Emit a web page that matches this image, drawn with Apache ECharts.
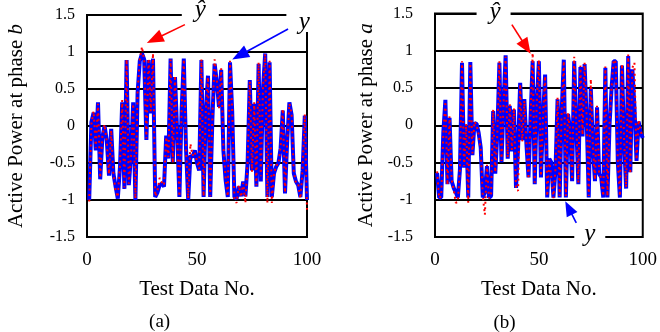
<!DOCTYPE html>
<html><head><meta charset="utf-8">
<script src="https://cdn.jsdelivr.net/npm/echarts@6/dist/echarts.min.js"></script>
<style>html,body{margin:0;padding:0;background:#fff}#c{width:660px;height:332px}</style>
</head><body><div id="c"></div>
<script>
// Test Data No. (1..100)
const testNo = Array.from({length: 100}, (_, k) => k + 1);
const xTicks = [0, 50, 100];
const yTicks = [-1.5, -1, -0.5, 0, 0.5, 1, 1.5];
const panelLabels = ['(a)', '(b)'];
const yNames = ['Active Power at phase {i|b}', 'Active Power at phase {i|a}'];

// (a) phase b : measured y
const phaseB_y = [
 -1.0, 0.05, 0.18, -0.33, 0.32, -0.72, -0.15, 0.0, -0.2, -0.67,
 -0.04, -0.64, -0.82, -0.98, -0.55, 0.32, -0.85, 0.89, -0.8, -0.4,
 0.32, -1.0, 0.45, 0.88, 0.98, 0.9, -0.19, 0.89, 0.17, 0.91,
 -0.96, -0.9, -0.8, -0.78, -0.82, -0.13, -0.44, 0.91, -0.49, 0.66,
 -0.1, -0.96, 0.2, 0.91, -0.3, -1.0, -0.4, -0.42, -0.33, -0.5,
 -0.6, 0.89, -0.96, 0.2, 0.68, -0.96, 0.1, 0.84, 0.6, 0.26,
 0.76, -0.33, -0.73, -0.96, 0.86, 0.2, -0.96, -0.98, -0.82, -0.95,
 -0.75, -0.95, -0.5, 0.62, -0.6, 0.3, -0.82, 0.84, -0.75, 0.5,
 0.98, -0.96, 0.86, -0.96, -0.64, -0.55, -0.5, -0.3, 0.21, -0.91,
 -0.2, 0.32, 0.15, -0.64, -0.75, -0.8, -0.96, -0.6, 0.14, -1.0
];
// (a) phase b : predicted y-hat
const phaseB_yhat = [
 -1.02, 0.03, 0.2, -0.3, 0.3, -0.7, -0.13, 0.02, -0.22, -0.65,
 -0.06, -0.66, -0.88, -0.96, -0.53, 0.35, -0.83, 0.9, -0.78, -0.42,
 0.3, -0.98, 0.47, 0.9, 1.07, 0.88, -0.17, 0.91, 0.2, 0.98,
 -0.95, -0.88, -0.7, -0.76, -0.8, -0.15, -0.42, 0.9, -0.5, 0.68,
 -0.12, -0.95, 0.22, 0.9, -0.28, -0.98, -0.24, -0.4, -0.35, -0.48,
 -0.58, 0.9, -0.95, 0.22, 0.66, -0.95, 0.12, 0.9, 0.62, 0.24,
 0.78, -0.28, -0.7, -0.95, 0.88, 0.22, -0.98, -1.04, -0.8, -0.96,
 -0.77, -1.04, -0.48, 0.6, -0.62, 0.32, -0.8, 0.86, -0.68, 0.52,
 0.97, -1.04, 0.88, -1.04, -0.65, -0.53, -0.52, -0.28, 0.23, -0.9,
 -0.22, 0.3, 0.17, -0.62, -0.77, -0.78, -0.98, -0.58, 0.16, -1.13
];
// (b) phase a : measured y
const phaseA_y = [
 -0.64, -0.97, -0.97, -0.1, 0.34, -0.79, 0.1, -0.75, -0.84, -0.9,
 -0.97, -0.6, 0.84, -0.57, 0.0, -0.97, 0.85, -0.4, 0.03, 0.02,
 -0.1, -0.3, -0.97, -0.9, -0.55, -0.97, -0.95, 0.19, -0.65, -0.1,
 0.84, -0.5, 0.3, 0.94, -0.45, 0.26, -0.35, 0.21, -0.84, -0.3,
 0.57, -0.2, 0.35, -0.25, -0.7, 0.1, 0.86, -0.79, 0.3, 0.86,
 -0.7, 0.1, 0.68, -0.97, -0.45, -0.5, -0.97, -0.6, 0.35, -0.97,
 0.2, 0.88, -0.97, 0.15, -0.05, -0.75, 0.86, 0.0, -0.79, 0.78,
 -0.15, 0.82, 0.1, -0.97, 0.5, -0.3, -0.75, 0.24, -0.65, -0.7,
 -0.97, 0.77, -0.97, 0.0, 0.5, 0.86, 0.86, -0.5, -0.97, 0.8,
 -0.2, -0.85, 0.93, -0.63, 0.75, 0.25, -0.48, 0.05, -0.1, -0.17
];
// (b) phase a : predicted y-hat
const phaseA_yhat = [
 -0.62, -0.98, -0.95, -0.12, 0.32, -0.8, 0.12, -0.73, -0.86, -1.04,
 -1.03, -0.58, 0.86, -0.55, 0.02, -1.04, 0.83, -0.38, 0.05, 0.0,
 -0.12, -0.32, -0.95, -1.2, -0.53, -0.98, -0.93, 0.21, -0.63, -0.12,
 0.86, -0.48, 0.28, 0.92, -0.43, 0.28, -0.33, 0.23, -0.86, -0.88,
 0.55, -0.22, 0.33, -0.23, -0.72, 0.12, 0.97, -0.77, 0.32, 0.88,
 -0.68, 0.12, 0.66, -0.95, -0.47, -0.7, -0.98, -0.58, 0.37, -0.95,
 0.22, 0.86, -0.95, 0.17, -0.07, -0.73, 0.92, 0.02, -0.77, 0.8,
 -0.13, 0.84, 0.12, -0.95, 0.62, -0.28, -0.73, 0.26, -0.63, -0.72,
 -0.95, 0.79, -0.95, 0.02, 0.52, 0.88, 0.84, -0.48, -0.95, 0.82,
 -0.18, -0.83, 0.95, -0.65, 0.77, 0.84, -0.46, 0.07, -0.08, -0.15
];

const serif = '"Liberation Serif", "Times New Roman", serif';
const pair = (ys) => testNo.map((x, k) => [x, ys[k]]);

const chart = echarts.init(document.getElementById('c'), null, {renderer: 'canvas'});

const grids = [
  {left: 87, top: 15, width: 220, height: 222},
  {left: 435, top: 13.5, width: 210, height: 223.5}
];
const yLabelMargins = [12, 22];
const yNameGaps = [60, 58];

const option = {
  animation: false,
  backgroundColor: '#fff',
  grid: grids.map(g => Object.assign({show: true, borderColor: '#000', borderWidth: 2, backgroundColor: '#fff'}, g)),
  xAxis: [0, 1].map(g => ({
    type: 'value', gridIndex: g, min: xTicks[0], max: xTicks[xTicks.length - 1], interval: xTicks[1] - xTicks[0],
    axisLine: {show: false}, axisTick: {show: false}, splitLine: {show: false},
    axisLabel: {fontFamily: serif, fontSize: 19, color: '#000', margin: 14},
    name: 'Test Data No.', nameLocation: 'middle', nameGap: 42,
    nameTextStyle: {fontFamily: serif, fontSize: 21, color: '#000'}
  })),
  yAxis: [0, 1].map(g => ({
    type: 'value', gridIndex: g, min: yTicks[0], max: yTicks[yTicks.length - 1], interval: yTicks[1] - yTicks[0],
    axisLine: {show: false}, axisTick: {show: false},
    splitLine: {show: true, lineStyle: {color: '#000', width: 1.8}},
    axisLabel: {fontFamily: serif, fontSize: 16, color: '#000', margin: yLabelMargins[g]},
    name: yNames[g], nameLocation: 'middle', nameGap: yNameGaps[g],
    nameTextStyle: {fontFamily: serif, fontSize: 21, color: '#000',
      rich: {i: {fontFamily: serif, fontStyle: 'italic', fontSize: 21, color: '#000'}}}
  })),
  series: [
    {type: 'line', xAxisIndex: 0, yAxisIndex: 0, data: pair(phaseB_y), symbol: 'none',
     lineStyle: {color: '#0000ff', width: 4}, z: 3},
    {type: 'line', xAxisIndex: 0, yAxisIndex: 0, data: pair(phaseB_yhat), symbol: 'none',
     lineStyle: {color: '#ff0000', width: 2, type: [2, 3.5]}, z: 4},
    {type: 'line', xAxisIndex: 1, yAxisIndex: 1, data: pair(phaseA_y), symbol: 'none',
     lineStyle: {color: '#0000ff', width: 4}, z: 3},
    {type: 'line', xAxisIndex: 1, yAxisIndex: 1, data: pair(phaseA_yhat), symbol: 'none',
     lineStyle: {color: '#ff0000', width: 2, type: [2, 3.5]}, z: 4}
  ]
};
chart.setOption(option);

// Annotations in data coordinates of each panel
const labelBoxes = [
  {g: 0, text: 'ŷ', at: [51.5, 1.56], box: [51.5, 1.5], size: [37, 24]},
  {g: 0, text: 'y', at: [98.8, 1.40], box: [98.8, 1.46], size: [36, 28]},
  {g: 1, text: 'ŷ', at: [28.9, 1.51], box: [28.2, 1.5], size: [34, 23]},
  {g: 1, text: 'y', at: [74.5, -1.46], box: [74.5, -1.5], size: [31, 23]}
];
const arrows = [
  {g: 0, color: '#ff0000', from: [44.5, 1.37], to: [27.2, 1.12], head: [17, 13]},
  {g: 0, color: '#0000ff', from: [91.4, 1.31], to: [66, 0.90], head: [17, 13]},
  {g: 1, color: '#ff0000', from: [37, 1.35], to: [46, 0.96], head: [16, 13]},
  {g: 1, color: '#0000ff', from: [68, -1.31], to: [62.7, -1.02], head: [15, 12]}
];
const panelLabelPos = [[33, -2.65], [33.5, -2.65]];

const px = (g, p) => chart.convertToPixel({gridIndex: g}, p);
const graphics = [];
labelBoxes.forEach(l => {
  const c = px(l.g, l.box);
  graphics.push({type: 'rect', z: 100, shape: {x: c[0] - l.size[0] / 2, y: c[1] - l.size[1] / 2, width: l.size[0], height: l.size[1]},
    style: {fill: '#fff'}});
  const a = px(l.g, l.at);
  graphics.push({type: 'text', z: 101, x: a[0], y: a[1],
    style: {text: l.text, fill: '#000', font: 'italic 25px ' + serif, textAlign: 'center', textVerticalAlign: 'middle'}});
});
arrows.forEach(ar => {
  const s = px(ar.g, ar.from), t = px(ar.g, ar.to);
  const dx = t[0] - s[0], dy = t[1] - s[1], len = Math.hypot(dx, dy);
  const ux = dx / len, uy = dy / len;
  const bx = t[0] - ux * ar.head[0], by = t[1] - uy * ar.head[0];
  const nx = -uy, ny = ux, hw = ar.head[1] / 2;
  graphics.push({type: 'line', z: 102, shape: {x1: s[0], y1: s[1], x2: bx + ux * 2, y2: by + uy * 2},
    style: {stroke: ar.color, lineWidth: 1.6}});
  graphics.push({type: 'polygon', z: 102, shape: {points: [[t[0], t[1]], [bx + nx * hw, by + ny * hw], [bx - nx * hw, by - ny * hw]]},
    style: {fill: ar.color}});
});
panelLabels.forEach((txt, g) => {
  const p = px(g, panelLabelPos[g]);
  graphics.push({type: 'text', z: 101, x: p[0], y: p[1],
    style: {text: txt, fill: '#000', font: '19px ' + serif, textAlign: 'center', textVerticalAlign: 'middle'}});
});
chart.setOption({graphic: graphics});
</script>
</body></html>
